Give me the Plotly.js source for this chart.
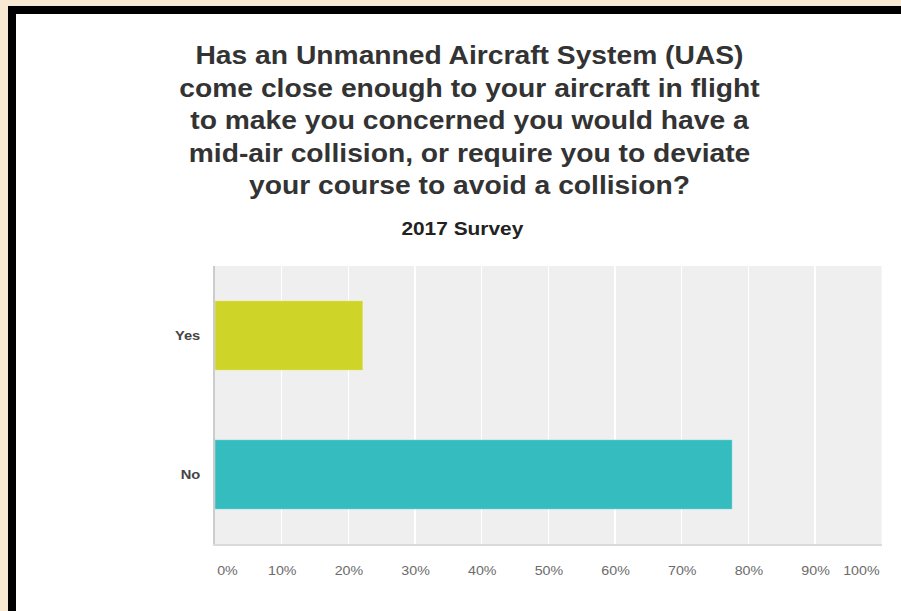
<!DOCTYPE html>
<html>
<head>
<meta charset="utf-8">
<script src="https://cdn.plot.ly/plotly-3.0.1.min.js"></script>
<style>
  html, body { margin: 0; padding: 0; width: 901px; height: 611px; overflow: hidden; background: #f8e9d2; }
  #frame { position: absolute; left: 8px; top: 6px; width: 885px; height: 597px; background: #ffffff;
           border-top: 8px solid #000; border-left: 8px solid #000; overflow: hidden; }
  #chart { position: absolute; left: 0; top: 0; transform-origin: 0 0; }
</style>
</head>
<body>
<div id="frame"><div id="chart"></div></div>
<script>
// ---- data ----
const categories = ['Yes', 'No'];
const percentages = [22.2, 77.6];
const barColors = ['#cfd428', '#34bcbf'];
const tickValues = [0, 10, 20, 30, 40, 50, 60, 70, 80, 90, 100];
const tickLabels = ['0%', '10%', '20%', '30%', '40%', '50%', '60%', '70%', '80%', '90%', '100%'];
const titleText = 'Has an Unmanned Aircraft System (UAS)<br>come close enough to your aircraft in flight<br>to make you concerned you would have a<br>mid-air collision, or require you to deviate<br>your course to avoid a collision?';
const subtitleText = '2017 Survey';

// ---- layout geometry (the reference is horizontally stretched) ----
const S = 1.13;
const W = Math.round(885 / S);
const H = 597;
const chartDiv = document.getElementById('chart');
chartDiv.style.width = W + 'px';
chartDiv.style.height = H + 'px';
chartDiv.style.transform = 'scaleX(' + S + ')';

const plotLeft = (215 - 16) / S;
const plotRight = (881.6 - 16) / S;
const FONT = '"Liberation Sans", Arial, Helvetica, sans-serif';

const trace = {
  type: 'bar',
  orientation: 'h',
  y: categories,
  x: percentages,
  marker: { color: barColors, line: { color: 'rgba(255,255,255,0.35)', width: 1 } },
  hoverinfo: 'none'
};

const tickAnnotations = tickValues.map((v, i) => ({
  x: v, xref: 'x', y: 0, yref: 'paper',
  text: tickLabels[i],
  showarrow: false,
  xanchor: i === 0 ? 'left' : (i === tickValues.length - 1 ? 'right' : 'center'),
  yanchor: 'middle',
  yshift: -27,
  font: { family: FONT, size: 12.6, color: '#6b6b6b' }
}));

const layout = {
  width: W,
  height: H,
  paper_bgcolor: '#ffffff',
  plot_bgcolor: '#efefef',
  margin: { l: plotLeft, r: W - plotRight, t: 252, b: 67, pad: 0 },
  showlegend: false,
  bargap: 0.5,
  title: {
    text: titleText,
    x: (469.5 - 16) / S / W,
    xanchor: 'center',
    y: 0.9155,
    yanchor: 'top',
    font: { family: FONT, size: 25, color: '#333333', weight: 700 }
  },
  xaxis: {
    range: [0, 100],
    tickvals: tickValues,
    showticklabels: false,
    showgrid: true,
    gridcolor: '#ffffff',
    gridwidth: 1.2,
    zeroline: false,
    showline: true,
    linecolor: '#dadada',
    linewidth: 2,
    ticks: '',
    fixedrange: true
  },
  yaxis: {
    autorange: 'reversed',
    showgrid: false,
    zeroline: false,
    showline: true,
    linecolor: '#cccccc',
    linewidth: 1.3,
    ticks: '',
    ticklabelstandoff: 9,
    tickfont: { family: FONT, size: 13, color: '#444444', weight: 700 },
    fixedrange: true
  },
  annotations: [
    {
      x: (462.5 - 16) / S, xref: 'paper', y: 1, yref: 'paper',
      text: subtitleText,
      showarrow: false,
      xanchor: 'center', yanchor: 'middle',
      yshift: 38,
      font: { family: FONT, size: 18.5, color: '#222222', weight: 700 }
    }
  ].concat(tickAnnotations)
};
// subtitle x is given in div pixels; convert to plot-area fraction
layout.annotations[0].x = (layout.annotations[0].x - plotLeft) / (plotRight - plotLeft);

Plotly.newPlot(chartDiv, [trace], layout, { displayModeBar: false, staticPlot: true });
</script>
</body>
</html>
